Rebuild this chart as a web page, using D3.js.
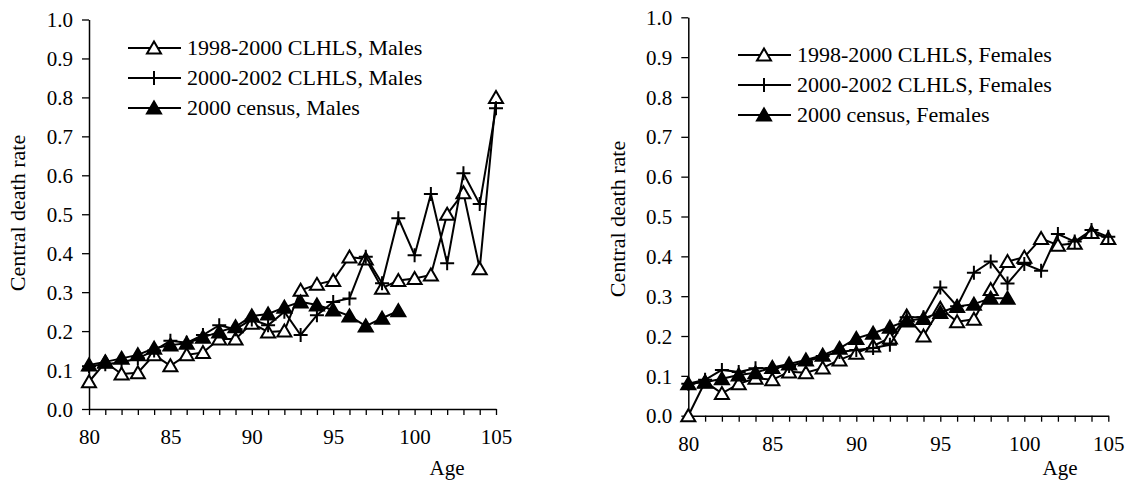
<!DOCTYPE html>
<html>
<head>
<meta charset="utf-8">
<script src="https://cdn.jsdelivr.net/npm/d3@7/dist/d3.min.js"></script>
<style>
  body { margin: 0; background: #fff; }
  #chart text { font-family: "Liberation Serif", serif; }
</style>
</head>
<body>
<svg id="chart" width="1130" height="486"></svg>
<script>
const ages = [80, 81, 82, 83, 84, 85, 86, 87, 88, 89, 90, 91, 92, 93, 94, 95, 96, 97, 98, 99, 100, 101, 102, 103, 104, 105];
const censusAges = [80, 81, 82, 83, 84, 85, 86, 87, 88, 89, 90, 91, 92, 93, 94, 95, 96, 97, 98, 99];
const yTicks = [0, 0.1, 0.2, 0.3, 0.4, 0.5, 0.6, 0.7, 0.8, 0.9, 1.0];
const xLabelTicks = [80, 85, 90, 95, 100, 105];

const maleClhls9800 = [0.07, 0.12, 0.09, 0.093, 0.139, 0.111, 0.139, 0.145, 0.18, 0.18, 0.22, 0.198, 0.2, 0.305, 0.32, 0.33, 0.39, 0.385, 0.31, 0.33, 0.335, 0.344, 0.5, 0.555, 0.36, 0.8];
const maleClhls0002 = [0.11, 0.115, 0.12, 0.13, 0.15, 0.175, 0.17, 0.19, 0.215, 0.205, 0.23, 0.215, 0.25, 0.19, 0.241, 0.275, 0.284, 0.391, 0.323, 0.49, 0.395, 0.552, 0.374, 0.605, 0.526, 0.772];
const maleCensus = [0.113, 0.121, 0.13, 0.139, 0.156, 0.164, 0.169, 0.184, 0.198, 0.211, 0.239, 0.244, 0.261, 0.275, 0.267, 0.254, 0.239, 0.213, 0.233, 0.252];

const femaleClhls9800 = [0.0, 0.085, 0.056, 0.08, 0.094, 0.09, 0.11, 0.108, 0.12, 0.14, 0.157, 0.175, 0.195, 0.25, 0.2, 0.27, 0.236, 0.242, 0.317, 0.387, 0.398, 0.445, 0.428, 0.433, 0.46, 0.445];
const femaleClhls0002 = [0.08, 0.09, 0.115, 0.11, 0.119, 0.12, 0.125, 0.135, 0.15, 0.16, 0.165, 0.17, 0.178, 0.247, 0.247, 0.322, 0.275, 0.359, 0.387, 0.332, 0.381, 0.364, 0.456, 0.437, 0.466, 0.449];
const femaleCensus = [0.08, 0.084, 0.093, 0.102, 0.108, 0.121, 0.13, 0.14, 0.152, 0.169, 0.194, 0.207, 0.222, 0.238, 0.244, 0.259, 0.274, 0.28, 0.295, 0.295];

const svg = d3.select("#chart").attr("font-family", "Liberation Serif");

const trianglePath = "M0,-6.5L7,5.5L-7,5.5Z";
const plusPath = "M-7,0H7M0,-7V7";

function drawMarker(g, kind) {
  if (kind === "plus") {
    g.append("path").attr("d", plusPath).attr("stroke", "#000").attr("stroke-width", 2).attr("fill", "none");
  } else {
    g.append("path")
      .attr("d", trianglePath)
      .attr("fill", kind === "filled" ? "#000" : "#fff")
      .attr("stroke", "#000")
      .attr("stroke-width", 2);
  }
}

function drawPanel(opts) {
  const x = d3.scaleLinear().domain([80, 105]).range(opts.xRange);
  const y = d3.scaleLinear().domain([0, 1]).range(opts.yRange);
  const root = svg.append("g").attr("font-family", "Liberation Serif");

  // y axis
  const yAxis = root.append("g")
    .attr("transform", `translate(${opts.xRange[0]},0)`)
    .call(d3.axisLeft(y).tickValues(yTicks).tickFormat(d3.format(".1f")).tickSize(7).tickSizeOuter(0).tickPadding(9));
  // x axis, a mark every year, labels every 5
  const xAxis = root.append("g")
    .attr("transform", `translate(0,${opts.yRange[0]})`)
    .call(d3.axisBottom(x).tickValues(ages).tickFormat((d) => (xLabelTicks.includes(d) ? d : "")).tickSize(6).tickSizeOuter(0).tickPadding(14));

  [yAxis, xAxis].forEach((ax) => {
    ax.attr("font-family", "Liberation Serif");
    ax.select(".domain").attr("stroke", "#000").attr("stroke-width", 1.5);
    ax.selectAll(".tick line").attr("stroke", "#000").attr("stroke-width", 1.3);
    ax.selectAll("text").attr("fill", "#000").attr("font-size", 21).attr("font-family", "Liberation Serif");
  });
  yAxis.selectAll("text").attr("dy", "0.34em");
  xAxis.selectAll("text").attr("dy", "0.71em");

  // axis titles
  root.append("text")
    .attr("transform", `translate(${opts.yTitleX},${opts.yTitleY}) rotate(-90)`)
    .attr("text-anchor", "middle")
    .attr("font-size", 22)
    .attr("font-family", "Liberation Serif")
    .text("Central death rate");
  root.append("text")
    .attr("x", opts.xTitleX)
    .attr("y", 475)
    .attr("text-anchor", "middle")
    .attr("font-size", 21)
    .attr("font-family", "Liberation Serif")
    .text("Age");

  // series
  const line = d3.line().x((d) => x(d.age)).y((d) => y(d.v));
  opts.series.forEach((s) => {
    const pts = s.ages.map((a, i) => ({ age: a, v: s.values[i] }));
    root.append("path")
      .datum(pts)
      .attr("d", line)
      .attr("fill", "none")
      .attr("stroke", "#000")
      .attr("stroke-width", 2);
    root.append("g")
      .selectAll("g")
      .data(pts)
      .join("g")
      .attr("transform", (d) => `translate(${x(d.age)},${y(d.v)})`)
      .each(function () {
        drawMarker(d3.select(this), s.marker);
      });
  });

  // legend
  const legend = root.append("g");
  opts.series.forEach((s, i) => {
    const row = legend.append("g").attr("transform", `translate(${opts.legendX},${opts.legendY + i * 30})`);
    row.append("line").attr("x1", 0).attr("x2", 53).attr("stroke", "#000").attr("stroke-width", 2);
    drawMarker(row.append("g").attr("transform", "translate(26,0)"), s.marker);
    row.append("text")
      .attr("x", 59)
      .attr("dy", "0.34em")
      .attr("font-size", 22)
      .attr("font-family", "Liberation Serif")
      .text(s.label);
  });
}

drawPanel({
  xRange: [89, 496],
  yRange: [409, 19.5],
  yTitleX: 25,
  yTitleY: 213,
  xTitleX: 447,
  legendX: 128,
  legendY: 48,
  series: [
    { label: "1998-2000 CLHLS, Males", ages: ages, values: maleClhls9800, marker: "open" },
    { label: "2000-2002 CLHLS, Males", ages: ages, values: maleClhls0002, marker: "plus" },
    { label: "2000 census, Males", ages: censusAges, values: maleCensus, marker: "filled" },
  ],
});

drawPanel({
  xRange: [688.3, 1108.3],
  yRange: [415.7, 17.3],
  yTitleX: 625,
  yTitleY: 219,
  xTitleX: 1060,
  legendX: 738,
  legendY: 55,
  series: [
    { label: "1998-2000 CLHLS, Females", ages: ages, values: femaleClhls9800, marker: "open" },
    { label: "2000-2002 CLHLS, Females", ages: ages, values: femaleClhls0002, marker: "plus" },
    { label: "2000 census, Females", ages: censusAges, values: femaleCensus, marker: "filled" },
  ],
});
</script>
</body>
</html>
